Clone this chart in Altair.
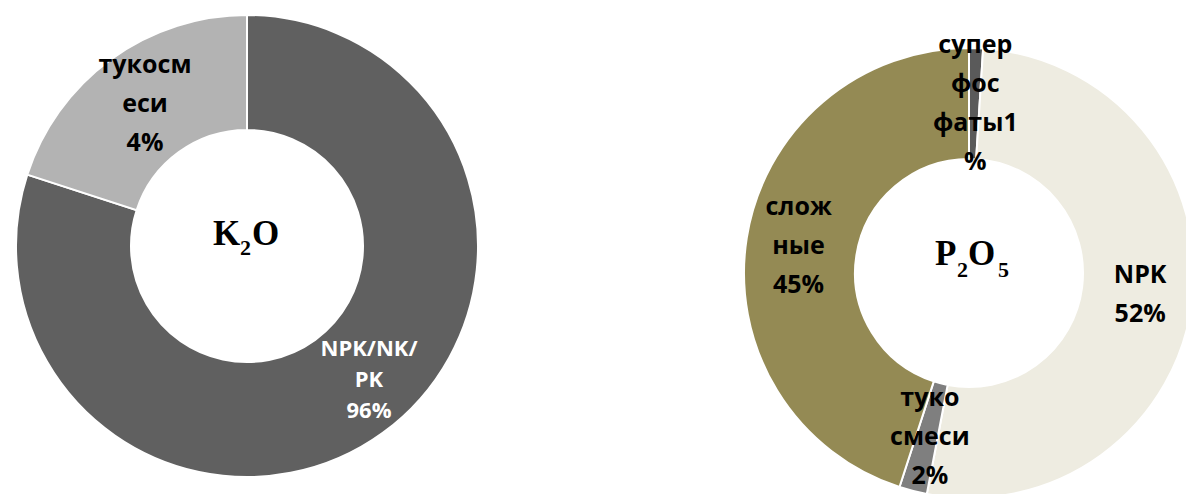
import altair as alt
import pandas as pd

# ---- K2O donut ----
k_cats = ["NPK/NK/PK", "тукосмеси"]
k_share = [80, 20]                      # angular share as drawn
k_labels = ["NPK/NK/\nPK\n96%", "тукосм\nеси\n4%"]
k_colors = ["#606060", "#b3b3b3"]

# ---- P2O5 donut ----
p_cats = ["суперфосфаты", "NPK", "тукосмеси", "сложные"]
p_share = [1, 52, 2, 45]
p_labels = ["супер\nфос\nфаты1\n%", "NPK\n52%", "туко\nсмеси\n2%", "слож\nные\n45%"]
p_colors = ["#5a5a5a", "#eeece1", "#7f7f7f", "#948a54"]

df_k = pd.DataFrame({"cat": k_cats, "value": k_share, "idx": range(len(k_cats)), "label": k_labels})
df_p = pd.DataFrame({"cat": p_cats, "value": p_share, "idx": range(len(p_cats)), "label": p_labels})

LABEL_FONT = "Open Sans"
SERIF = "Liberation Serif"


def donut(df, cats, colors, cx, cy, r_out, r_in, label_specs):
    theta_scale = alt.Scale(domain=[0, 100])
    arc = alt.Chart(df).mark_arc(
        outerRadius=r_out, innerRadius=r_in, stroke="white", strokeWidth=2
    ).encode(
        x=alt.value(cx), y=alt.value(cy),
        theta=alt.Theta("value:Q", stack=True, scale=theta_scale),
        order=alt.Order("idx:Q"),
        color=alt.Color("cat:N", scale=alt.Scale(domain=cats, range=colors), legend=None),
    )
    layers = [arc]
    for cat_sel, color, size, lh, nlines, ddx, ddy in label_specs:
        t = alt.Chart(df).transform_window(
            cum="sum(value)", sort=[alt.SortField("idx")], frame=[None, 0]
        ).transform_calculate(
            mid="datum.cum - datum.value / 2"
        ).transform_filter(
            alt.FieldEqualPredicate(field="cat", equal=cat_sel)
        ).mark_text(
            radius=(r_out + r_in) / 2, font=LABEL_FONT, fontWeight="bold",
            fontSize=size, lineHeight=lh, lineBreak="\n", color=color,
            align="center", baseline="middle",
            dx=ddx, dy=-(nlines - 1) * lh / 2 + ddy
        ).encode(
            x=alt.value(cx), y=alt.value(cy),
            theta=alt.Theta("mid:Q", scale=theta_scale),
            text="label:N",
        )
        layers.append(t)
    return alt.layer(*layers)


left = donut(df_k, k_cats, k_colors, 239, 238, 231, 116,
             [("NPK/NK/PK", "white", 22, 31, 3, 20, -6),
              ("тукосмеси", "black", 25, 39, 3, 0, -2)])
right = donut(df_p, p_cats, p_colors, 961, 265, 225, 114,
              [("суперфосфаты", "black", 25, 39, 4, 1, 0),
               ("NPK", "black", 25, 39, 2, 3, 0),
               ("тукосмеси", "black", 25, 39, 3, 3, 0),
               ("сложные", "black", 25, 39, 3, -3, 0)])


def word(parts):
    out = []
    for txt, x, y, size in parts:
        out.append(
            alt.Chart(pd.DataFrame({"t": [txt]})).mark_text(
                font=SERIF, fontWeight="bold", fontSize=size, align="left",
                baseline="alphabetic", color="black"
            ).encode(x=alt.value(x), y=alt.value(y), text="t:N")
        )
    return out


center_k = word([("K", 205, 237, 35), ("2", 232, 247, 22), ("O", 244, 237, 35)])
center_p = word([("P", 927, 257, 35), ("2", 949, 269, 22), ("O", 960, 257, 35), ("5", 990, 269, 22)])

chart = alt.layer(left, right, *center_k, *center_p).resolve_scale(
    theta="independent", color="independent"
).properties(
    width=1178, height=486, autosize="none", padding=0
).configure_view(stroke=None)

chart.save("out.html", embed_options={"renderer": "svg", "actions": False})
